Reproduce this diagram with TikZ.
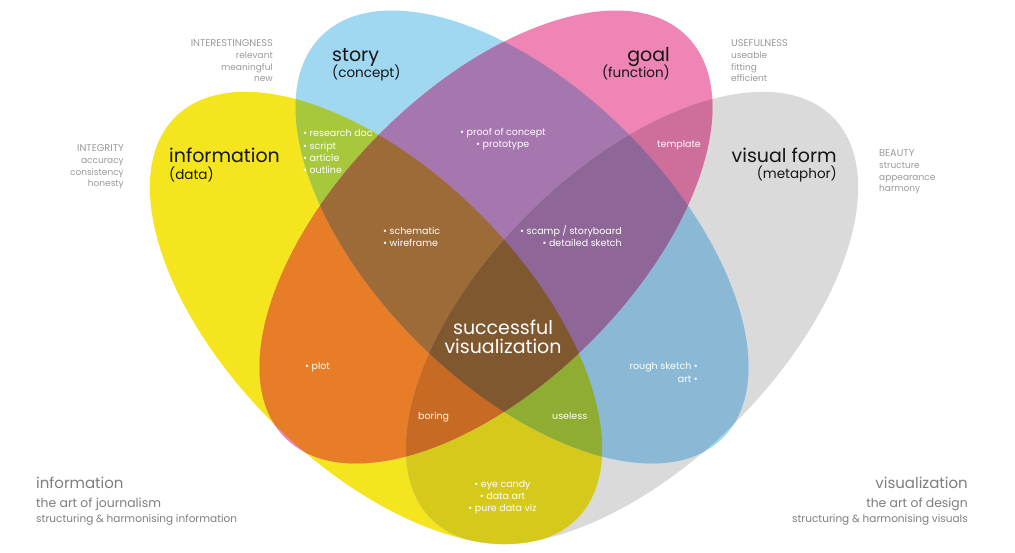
\documentclass[tikz,border=0pt]{standalone}
\usepackage{fontspec}
\setmainfont{Poppins}

% base colours of the four sets
\definecolor{cY}{HTML}{F4E51E}
\definecolor{cB}{HTML}{A1D8F1}
\definecolor{cP}{HTML}{EE85B5}
\definecolor{cG}{HTML}{DADADA}
% pairwise overlaps
\definecolor{cYB}{HTML}{A7C73C}
\definecolor{cYP}{HTML}{E77D27}
\definecolor{cYG}{HTML}{D5CA1C}
\definecolor{cBP}{HTML}{A676AE}
\definecolor{cBG}{HTML}{8BB9D5}
\definecolor{cPG}{HTML}{CE6E9B}
% triple overlaps
\definecolor{cYBP}{HTML}{9D6B37}
\definecolor{cYBG}{HTML}{8FAD33}
\definecolor{cYPG}{HTML}{C76A23}
\definecolor{cBPG}{HTML}{8E6697}
% all four
\definecolor{cAll}{HTML}{80582F}
% text colours
\definecolor{ink}{HTML}{151515}
\definecolor{sidegray}{HTML}{9A9A9A}
\definecolor{footgray}{HTML}{7E7E7E}

\begin{document}
\begin{tikzpicture}[x=1pt,y=-1pt,
  ttl/.style={font=\fontsize{19}{19}\selectfont, text=ink, inner sep=0},
  sub/.style={font=\fontsize{13.5}{14}\selectfont, text=ink, inner sep=0},
  item/.style={font=\fontsize{9.5}{12}\selectfont, text=white, inner sep=0},
  core/.style={font=\fontsize{19}{19}\selectfont, text=white, inner sep=0},
  side/.style={font=\fontsize{9}{11}\selectfont, text=sidegray, inner sep=0},
  sidecap/.style={side, font=\fontsize{9.8}{11}\selectfont},
  foota/.style={font=\fontsize{15}{15}\selectfont, text=footgray, inner sep=0},
  footb/.style={font=\fontsize{12.4}{12}\selectfont, text=footgray, inner sep=0},
  footc/.style={font=\fontsize{10.5}{11}\selectfont, text=footgray, inner sep=0}
]
\useasboundingbox (0,0) rectangle (1015,553);
\fill[white] (0,0) rectangle (1015,553);

% the four sets
\def\ellY{(376,318) ellipse [x radius=284, y radius=147, rotate=-45]}
\def\ellG{(632,318) ellipse [x radius=284, y radius=147, rotate=45]}
\def\ellB{(522,237) ellipse [x radius=284, y radius=148, rotate=-45]}
\def\ellP{(486,237) ellipse [x radius=284, y radius=148, rotate=45]}

\fill[cY] \ellY;
\fill[cG] \ellG;
\fill[cB] \ellB;
\fill[cP] \ellP;

% pairwise overlaps
\begin{scope}\clip \ellY; \fill[cYB] \ellB; \end{scope}
\begin{scope}\clip \ellY; \fill[cYP] \ellP; \end{scope}
\begin{scope}\clip \ellY; \fill[cYG] \ellG; \end{scope}
\begin{scope}\clip \ellB; \fill[cBP] \ellP; \end{scope}
\begin{scope}\clip \ellB; \fill[cBG] \ellG; \end{scope}
\begin{scope}\clip \ellP; \fill[cPG] \ellG; \end{scope}

% triple overlaps
\begin{scope}\clip \ellY; \clip \ellB; \fill[cYBP] \ellP; \end{scope}
\begin{scope}\clip \ellY; \clip \ellB; \fill[cYBG] \ellG; \end{scope}
\begin{scope}\clip \ellY; \clip \ellP; \fill[cYPG] \ellG; \end{scope}
\begin{scope}\clip \ellB; \clip \ellP; \fill[cBPG] \ellG; \end{scope}

% all four
\begin{scope}\clip \ellY; \clip \ellB; \clip \ellP; \fill[cAll] \ellG; \end{scope}

% set titles
\node[ttl, anchor=base west] (tStory) at (332,62) {story};
\node[sub, anchor=base west] (tConcept) at (332,78) {(concept)};
\node[ttl, anchor=base east] (tGoal) at (670,62) {goal};
\node[sub, anchor=base east] (tFunction) at (670,78) {(function)};
\node[ttl, anchor=base west] (tInfo) at (169,163) {information};
\node[sub, anchor=base west] (tData) at (169,180) {(data)};
\node[ttl, anchor=base east] (tForm) at (837,163) {visual form};
\node[sub, anchor=base east] (tMeta) at (837,179) {(metaphor)};

% qualities beside the sets
\node[sidecap, anchor=base east] (sI1) at (273,47) {INTERESTINGNESS};
\node[side, anchor=base east] (sI2) at (273,58.7) {relevant};
\node[side, anchor=base east] (sI3) at (273,70.4) {meaningful};
\node[side, anchor=base east] (sI4) at (273,82) {new};
\node[sidecap, anchor=base east] (sN1) at (124,152) {INTEGRITY};
\node[side, anchor=base east] (sN2) at (124,163.7) {accuracy};
\node[side, anchor=base east] (sN3) at (124,175.3) {consistency};
\node[side, anchor=base east] (sN4) at (124,187) {honesty};
\node[sidecap, anchor=base west] (sU1) at (731,47) {USEFULNESS};
\node[side, anchor=base west] (sU2) at (731,58.7) {useable};
\node[side, anchor=base west] (sU3) at (731,70.4) {fitting};
\node[side, anchor=base west] (sU4) at (731,82) {efficient};
\node[sidecap, anchor=base west] (sB1) at (879,157) {BEAUTY};
\node[side, anchor=base west] (sB2) at (879,168.7) {structure};
\node[side, anchor=base west] (sB3) at (879,180.3) {appearance};
\node[side, anchor=base west] (sB4) at (879,192) {harmony};

% region contents
\node[item, anchor=base west] (rYB1) at (303,137) {• research doc};
\node[item, anchor=base west] (rYB2) at (303,149.5) {• script};
\node[item, anchor=base west] (rYB3) at (303,162) {• article};
\node[item, anchor=base west] (rYB4) at (303,174) {• outline};
\node[item, anchor=base west] (rBP1) at (460,136) {• proof of concept};
\node[item, anchor=base west] (rBP2) at (476,148) {• prototype};
\node[item, anchor=base west] (rPG) at (657,148) {template};
\node[item, anchor=base west] (rYBP1) at (383,235) {• schematic};
\node[item, anchor=base west] (rYBP2) at (383,247) {• wireframe};
\node[item, anchor=base east] (rBPG1) at (622,235) {• scamp / storyboard};
\node[item, anchor=base east] (rBPG2) at (622,247) {• detailed sketch};
\node[item, anchor=base west] (rYP) at (305,370) {• plot};
\node[item, anchor=base east] (rBG1) at (698,370) {rough sketch •};
\node[item, anchor=base east] (rBG2) at (698,382) {art •};
\node[item, anchor=base west] (rYPG) at (418,419) {boring};
\node[item, anchor=base west] (rYBG) at (552,419) {useless};
\node[item, anchor=base] (rYG1) at (502.5,487) {• eye candy};
\node[item, anchor=base] (rYG2) at (502.5,499) {• data art};
\node[item, anchor=base] (rYG3) at (502.5,511) {• pure data viz};
\node[core, anchor=base] (cAll1) at (503,335) {successful};
\node[core, anchor=base] (cAll2) at (503,353) {visualization};

% footers
\node[foota, anchor=base west] (fL1) at (36,488) {information};
\node[footb, anchor=base west] (fL2) at (36,507) {the art of journalism};
\node[footc, anchor=base west] (fL3) at (36,522) {structuring \& harmonising information};
\node[foota, anchor=base east] (fR1) at (968,488) {visualization};
\node[footb, anchor=base east] (fR2) at (968,507) {the art of design};
\node[footc, anchor=base east] (fR3) at (968,522) {structuring \& harmonising visuals};
\end{tikzpicture}
\end{document}
